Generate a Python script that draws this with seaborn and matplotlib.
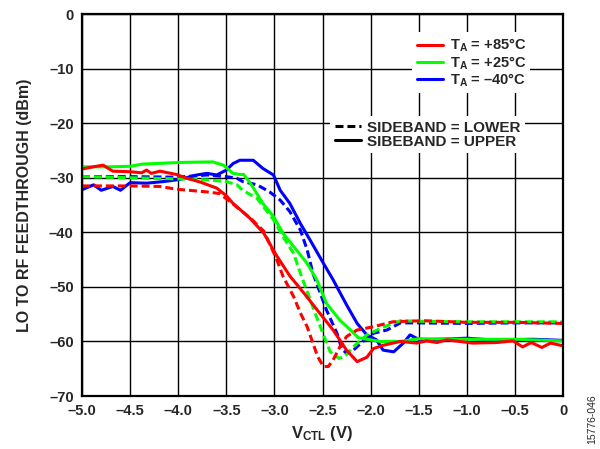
import matplotlib
matplotlib.use("Agg")
import matplotlib.pyplot as plt
from matplotlib.lines import Line2D
import seaborn as sns

# LO to RF feedthrough vs V_CTL
# upper sideband = solid, lower sideband = dashed
v_85_up = [-5.0, -4.85, -4.78, -4.68, -4.5, -4.38, -4.33, -4.28, -4.19, -4.02,
           -3.91, -3.77, -3.60, -3.50, -3.43, -3.25, -3.11, -2.98, -2.84, -2.70,
           -2.53, -2.39, -2.25, -2.14, -2.04, -1.97, -1.87, -1.69, -1.52, -1.42,
           -1.31, -1.21, -0.94, -0.69, -0.52, -0.42, -0.33, -0.22, -0.13, 0.0]
db_85_up = [-28.4, -27.9, -27.7, -28.8, -28.9, -29.1, -28.6, -29.2, -28.8, -29.4,
            -30.1, -30.8, -31.9, -33.3, -34.7, -37.5, -40.2, -44.2, -48.0, -51.0,
            -54.8, -57.9, -61.6, -63.7, -62.9, -61.3, -60.7, -60.0, -60.3, -59.9,
            -60.2, -59.7, -60.3, -60.2, -59.9, -61.0, -60.2, -61.1, -60.3, -60.8]

v_85_lo = [-5.0, -4.5, -4.19, -4.02, -3.70, -3.57, -3.46, -3.25, -3.11, -2.98,
           -2.91, -2.80, -2.73, -2.66, -2.60, -2.55, -2.49, -2.44, -2.39, -2.32,
           -2.25, -2.14, -1.97, -1.77, -1.45, -1.0, -0.5, 0.0]
db_85_lo = [-31.5, -31.5, -31.6, -32.1, -32.6, -32.9, -34.4, -37.4, -39.8, -44.8,
            -48.1, -51.8, -54.8, -57.3, -60.3, -62.8, -64.6, -64.6, -63.4, -61.0,
            -59.1, -57.9, -57.3, -56.4, -56.2, -56.5, -56.5, -56.7]

v_25_up = [-5.0, -4.7, -4.5, -4.37, -3.98, -3.64, -3.53, -3.43, -3.36, -3.32,
           -3.25, -3.12, -3.01, -2.91, -2.80, -2.66, -2.56, -2.46, -2.32, -2.21,
           -2.13, -2.04, -1.9, -1.69, -1.5, -1.0, -0.5, 0.0]
db_25_up = [-28.0, -28.0, -27.9, -27.5, -27.2, -27.1, -27.7, -29.2, -29.4, -29.4,
            -31.0, -34.7, -37.1, -40.2, -42.6, -45.7, -48.7, -53.0, -56.1, -57.9,
            -59.3, -59.6, -60.0, -60.0, -59.5, -59.6, -59.6, -59.9]

v_25_lo = [-5.0, -4.5, -4.02, -3.70, -3.50, -3.39, -3.33, -3.18, -3.01, -2.91,
           -2.80, -2.73, -2.59, -2.49, -2.42, -2.33, -2.27, -2.18, -2.04,
           -1.87, -1.69, -1.5, -1.0, -0.5, 0.0]
db_25_lo = [-29.8, -30.0, -30.2, -30.4, -30.7, -31.3, -32.3, -33.8, -37.7, -40.8,
            -43.9, -47.5, -54.2, -58.8, -61.9, -63.1, -62.8, -61.0, -58.8,
            -57.4, -56.2, -56.3, -56.4, -56.4, -56.4]

v_m40_up = [-5.0, -4.88, -4.80, -4.68, -4.60, -4.5, -4.33, -4.15, -3.98, -3.81,
            -3.70, -3.60, -3.50, -3.43, -3.36, -3.22, -3.12, -3.01, -2.94, -2.84,
            -2.73, -2.63, -2.49, -2.39, -2.25, -2.14, -2.04, -1.94, -1.87, -1.76,
            -1.66, -1.59, -1.49, -1.28, -1.0, -0.76, -0.31, 0.0]
db_m40_up = [-32.2, -31.3, -32.3, -31.6, -32.3, -30.9, -31.0, -30.7, -30.3, -29.5,
             -29.2, -29.5, -28.6, -27.4, -26.8, -26.8, -28.3, -29.5, -32.3, -34.7,
             -38.4, -41.4, -45.7, -48.7, -53.3, -56.7, -58.8, -59.7, -61.6, -61.9,
             -60.3, -58.8, -59.7, -59.6, -59.4, -59.7, -59.6, -59.8]

v_m40_lo = [-5.0, -4.5, -4.02, -3.70, -3.50, -3.39, -3.33, -3.18, -3.05, -2.94,
            -2.84, -2.73, -2.66, -2.60, -2.46, -2.35, -2.30, -2.25, -2.18, -2.08,
            -1.97, -1.83, -1.69, -1.5, -1.0, -0.5, 0.0]
db_m40_lo = [-29.8, -29.8, -29.9, -29.5, -29.8, -30.1, -30.7, -31.3, -32.6, -34.1,
             -36.2, -39.6, -43.2, -47.5, -54.2, -58.5, -61.3, -62.2, -61.6, -60.0,
             -58.5, -57.9, -56.6, -56.6, -56.7, -56.6, -56.6]

temp_labels = ["T$_A$ = +85°C", "T$_A$ = +25°C", "T$_A$ = –40°C"]
band_labels = ["SIDEBAND = LOWER", "SIBEBAND = UPPER"]  # typo is in the original
x_ticks = [-5.0, -4.5, -4.0, -3.5, -3.0, -2.5, -2.0, -1.5, -1.0, -0.5, 0.0]
x_ticklabels = ["–5.0", "–4.5", "–4.0", "–3.5", "–3.0", "–2.5", "–2.0",
                "–1.5", "–1.0", "–0.5", "0"]
y_ticks = [0, -10, -20, -30, -40, -50, -60, -70]
y_ticklabels = ["0", "–10", "–20", "–30", "–40", "–50", "–60", "–70"]

RED, GREEN, BLUE = "#ff0000", "#00ff00", "#0000ff"
DASH = (0, (2.6, 1.3))
LW = 2.2

sns.set_style("whitegrid", {"grid.color": "black", "axes.edgecolor": "black"})
plt.rcParams["font.family"] = ["Liberation Sans", "DejaVu Sans"]
plt.rcParams["font.weight"] = "bold"
plt.rcParams["mathtext.fontset"] = "custom"
plt.rcParams["mathtext.rm"] = "Liberation Sans:bold"
plt.rcParams["mathtext.it"] = "Liberation Sans:bold"
plt.rcParams["mathtext.bf"] = "Liberation Sans:bold"
plt.rcParams["mathtext.default"] = "rm"

fig = plt.figure(figsize=(6, 4.49), dpi=100)
ax = fig.add_axes([0.1367, 0.118, 0.8017, 0.8508])

# blue first, red last so red sits on top like the reference
series = [
    (v_m40_lo, db_m40_lo, BLUE, DASH),
    (v_m40_up, db_m40_up, BLUE, "-"),
    (v_25_lo, db_25_lo, GREEN, DASH),
    (v_25_up, db_25_up, GREEN, "-"),
    (v_85_lo, db_85_lo, RED, DASH),
    (v_85_up, db_85_up, RED, "-"),
]
for xs, ys, c, ls in series:
    sns.lineplot(x=xs, y=ys, color=c, linewidth=LW, linestyle=ls,
                 estimator=None, ax=ax)

ax.set_xlim(-5, 0)
ax.set_ylim(-70, 0)
ax.set_xticks(x_ticks)
ax.set_xticklabels(x_ticklabels)
ax.set_yticks(y_ticks)
ax.set_yticklabels(y_ticklabels)
ax.tick_params(length=0, labelsize=10.5, pad=6)
ax.grid(True, color="black", linewidth=1.0)
for s in ax.spines.values():
    s.set_linewidth(1.6)
    s.set_color("black")

ax.set_xlabel("V$_{CTL}$ (V)", fontsize=12, fontweight="bold", labelpad=4)
ax.set_ylabel("LO TO RF FEEDTHROUGH (dBm)", fontsize=11.5, fontweight="bold",
              labelpad=12)

# temperature legend (colour)
temp_handles = [Line2D([], [], color=c, lw=LW) for c in (RED, GREEN, BLUE)]
leg1 = ax.legend(temp_handles, temp_labels, loc="upper left",
                 bbox_to_anchor=(0.687, 0.952), borderaxespad=0, fontsize=10.5,
                 handlelength=1.8, handletextpad=0.45, labelspacing=0.0,
                 borderpad=0.3, frameon=True, fancybox=False,
                 facecolor="white", edgecolor="none", framealpha=1.0)
ax.add_artist(leg1)

# sideband legend (line style)
band_handles = [Line2D([], [], color="black", lw=LW, linestyle=DASH),
                Line2D([], [], color="black", lw=LW)]
ax.legend(band_handles, band_labels, loc="upper left",
          bbox_to_anchor=(0.516, 0.733), borderaxespad=0, fontsize=11,
          handlelength=1.7, handletextpad=0.4, labelspacing=0.0,
          borderpad=0.3, frameon=True, fancybox=False,
          facecolor="white", edgecolor="none", framealpha=1.0)

fig.text(0.987, 0.067, "15776-046", rotation=90, fontsize=7.5,
         fontweight="normal", ha="center", va="center")

fig.savefig("out.png", dpi=100)
